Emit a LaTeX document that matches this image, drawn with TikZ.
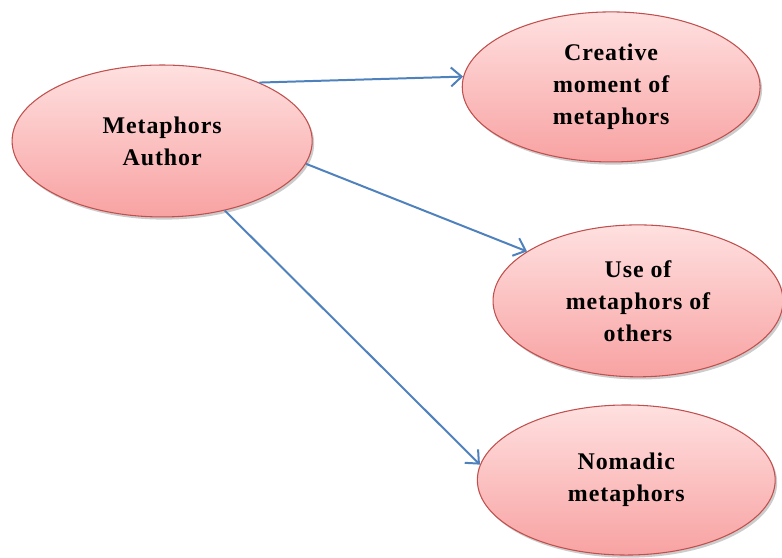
\documentclass[tikz,border=0pt]{standalone}
\usepackage{fontspec}
\setmainfont{Liberation Serif}
\usepackage{tikz}
\usetikzlibrary{shapes.geometric, arrows.meta, positioning, shadows}
\definecolor{pinktop}{HTML}{FFE0E0}
\definecolor{pinkbot}{HTML}{F8A2A2}
\definecolor{ovalline}{HTML}{C0504D}
\definecolor{arrowblue}{HTML}{4F81BD}
\tikzstyle{idea} = [ellipse, draw=ovalline, line width=0.8pt, top color=pinktop, bottom color=pinkbot, inner sep=0pt, align=center, font=\fontsize{18}{24}\selectfont\bfseries\addfontfeature{LetterSpace=4}, drop shadow={shadow xshift=1.5pt, shadow yshift=-2pt, fill=black!50, opacity=0.4}]
\tikzstyle{link} = [draw=arrowblue, line width=1.5pt, ->]

\begin{document}
\begin{tikzpicture}[node distance=1cm, >={Straight Barb[length=2.8mm, width=5mm]}]
    \useasboundingbox (-4.29,-11.01) rectangle (16.40,3.73);
    \node[idea, minimum width=7.94cm, minimum height=4.02cm] (auth) at (0,0) {Metaphors\\Author};
    \node[idea, minimum width=7.88cm, minimum height=3.97cm, right of=auth, node distance=11.88cm, yshift=1.43cm] (creative) {Creative\\moment of\\metaphors};
    \node[idea, minimum width=7.67cm, minimum height=4.02cm, right of=auth, node distance=12.59cm, yshift=-4.23cm] (use) {Use of\\metaphors of\\others};
    \node[idea, minimum width=7.88cm, minimum height=3.97cm, right of=auth, node distance=12.28cm, yshift=-8.97cm] (nomad) {Nomadic\\metaphors};
    \draw[link] (auth.31) -- (creative.176);
    \draw[link] (auth.-9) -- (use.156);
    \draw[link] (auth.-48) -- (nomad.174);
\end{tikzpicture}
\end{document}
